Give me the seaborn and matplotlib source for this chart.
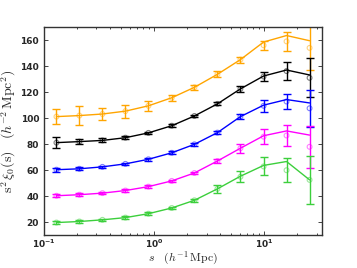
import numpy as np
import pandas as pd
import matplotlib
matplotlib.use("Agg")
import matplotlib.pyplot as plt
import seaborn as sns

# separation bins (h^-1 Mpc)
s = [0.13, 0.21, 0.34, 0.55, 0.89, 1.45, 2.33, 3.77, 6.1, 9.9, 16.0, 25.9]

# model curves (lines) and measurements (circles + error bars)
orange_line = [101.2, 102.0, 103.2, 105.4, 109.5, 115.7, 123.7, 133.7, 145.0, 158.5, 163.5, 159.5]
orange_data = [101.2, 102.0, 103.2, 105.4, 109.5, 115.7, 123.7, 133.7, 145.0, 156.0, 159.0, 154.0]
orange_err = [5.6, 7.5, 4.6, 5.1, 3.7, 2.2, 1.9, 2.2, 2.3, 3.5, 7.5, 17.0]

black_line = [81.2, 82.0, 82.9, 85.0, 88.7, 94.2, 101.7, 111.0, 122.5, 132.4, 137.0, 133.2]
black_data = [81.2, 82.0, 82.9, 85.0, 88.7, 94.2, 101.7, 111.0, 122.5, 132.0, 136.2, 131.0]
black_err = [4.3, 1.9, 1.5, 1.2, 1.0, 1.0, 1.0, 1.2, 2.2, 3.7, 7.0, 15.0]

blue_line = [60.4, 61.1, 62.6, 64.9, 68.4, 73.4, 79.9, 88.9, 101.2, 110.0, 114.3, 111.7]
blue_data = [60.4, 61.1, 62.6, 64.9, 68.4, 73.4, 79.9, 88.9, 101.2, 109.5, 112.8, 107.6]
blue_err = [1.5, 1.0, 1.0, 1.0, 1.0, 1.0, 1.0, 1.3, 2.2, 4.4, 6.0, 14.0]

magenta_line = [40.4, 41.2, 42.4, 44.4, 47.4, 51.8, 57.9, 67.1, 76.9, 86.5, 90.2, 87.0]
magenta_data = [40.4, 41.2, 42.4, 44.4, 47.4, 51.8, 57.9, 67.1, 76.9, 85.8, 86.7, 78.0]
magenta_err = [1.0, 1.0, 1.0, 1.0, 1.0, 1.0, 1.0, 1.5, 3.4, 6.0, 8.4, 16.0]

green_line = [19.8, 20.6, 21.9, 23.6, 26.6, 31.0, 36.9, 45.7, 55.4, 63.7, 66.7, 52.6]
green_data = [19.8, 20.6, 21.9, 23.6, 26.6, 31.0, 36.9, 45.7, 55.0, 62.9, 60.0, 52.6]
green_err = [1.0, 1.0, 1.0, 1.0, 1.0, 1.0, 1.2, 2.9, 4.4, 6.9, 9.1, 18.4]

series = [
    ("orange", orange_line, orange_data, orange_err),
    ("black", black_line, black_data, black_err),
    ("blue", blue_line, blue_data, blue_err),
    ("magenta", magenta_line, magenta_data, magenta_err),
    ("#3ccf3c", green_line, green_data, green_err),
]

sns.set_style("ticks", {"xtick.direction": "in", "ytick.direction": "in"})
plt.rcParams["xtick.top"] = True
plt.rcParams["ytick.right"] = True

fig = plt.figure(figsize=(3.57, 2.68), dpi=100)
ax = fig.add_axes([0.123, 0.122, 0.779, 0.777])

for color, line, data, err in series:
    df = pd.DataFrame({"s": s, "line": line, "data": data})
    sns.lineplot(data=df, x="s", y="line", color=color, lw=1.0, ax=ax)
    ax.errorbar(s, data, yerr=err, fmt="none", ecolor=color, elinewidth=1.0,
                capsize=3, capthick=1.0)
    sns.scatterplot(data=df, x="s", y="data", marker="o", s=12, facecolor="none",
                    edgecolor=color, linewidth=0.8, alpha=0.5, ax=ax)

ax.set_xscale("log")
ax.set_xlim(0.1, 33.6)
ax.set_ylim(10, 170)
ax.set_xticks([0.1, 1, 10])
ax.set_xticklabels([r"$\mathbf{10^{-1}}$", r"$\mathbf{10^{0}}$", r"$\mathbf{10^{1}}$"])
ax.set_yticks([20, 40, 60, 80, 100, 120, 140, 160])
ax.set_yticklabels(["20", "40", "60", "80", "100", "120", "140", "160"])
ax.tick_params(which="both", labelsize=6.5, width=0.6)
ax.tick_params(which="major", length=3)
ax.tick_params(which="minor", length=1.5)
ax.tick_params(axis="x", pad=1.5)
for lab in ax.get_yticklabels():
    lab.set_fontweight("bold")

ax.set_xlabel(r"$s\quad(h^{-1}\,\mathrm{Mpc})$", fontsize=8.5, math_fontfamily="cm", labelpad=0)
ax.set_ylabel(r"$\mathrm{s}^2\,\xi_0(\mathrm{s})\quad(h^{-2}\,\mathrm{Mpc}^2)$", fontsize=10,
              math_fontfamily="cm", labelpad=2)

for sp in ax.spines.values():
    sp.set_linewidth(1.0)
    sp.set_color("#333333")

fig.savefig("out.png", dpi=100)
